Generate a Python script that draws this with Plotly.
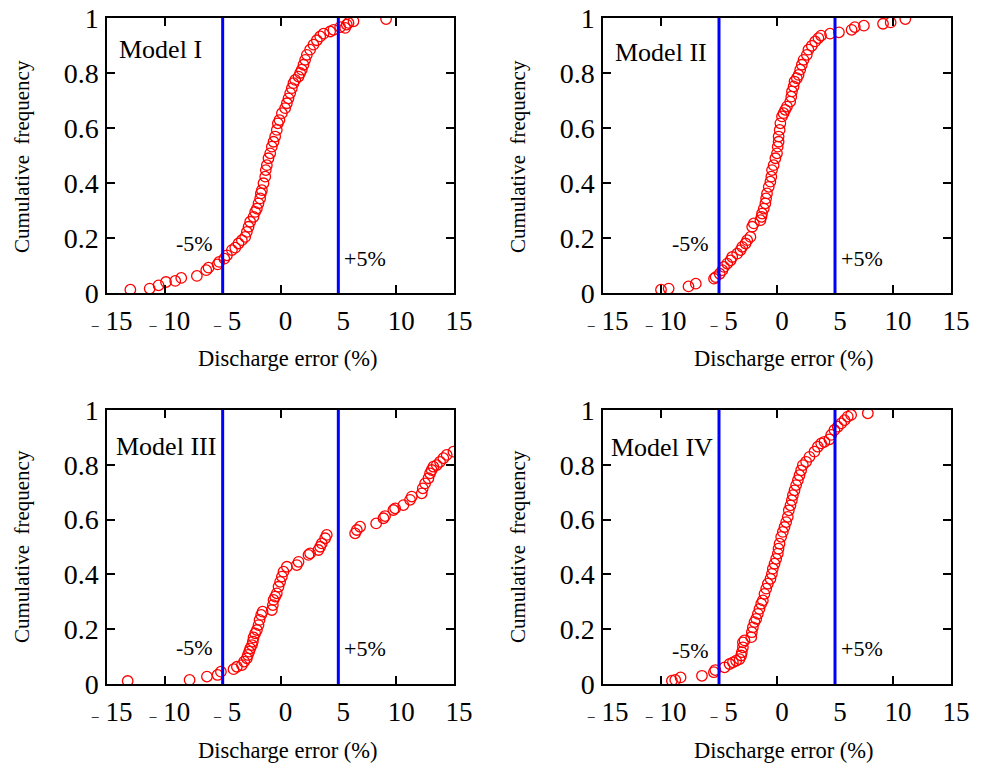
import plotly.graph_objects as go

# ---------------- data ----------------
m1_x = [-12.98, -11.31, -10.54, -9.90, -9.10, -8.58, -7.23, -6.42, -6.22, -5.44, -5.30, -4.86, -4.63,
        -4.20, -3.91, -3.63, -3.34, -3.05, -2.91, -2.76, -2.62, -2.33, -2.19, -2.04, -1.90, -1.76,
        -1.70, -1.61, -1.47, -1.32, -1.27, -1.18, -1.04, -0.89, -0.75, -0.60, -0.46, -0.32, -0.23,
        -0.09, 0.12, 0.40, 0.55, 0.69, 0.84, 0.98, 1.12, 1.27, 1.56, 1.70, 1.84, 1.99, 2.13, 2.28,
        2.56, 2.85, 3.14, 3.43, 3.72, 4.29, 4.58, 5.16, 5.59, 5.73, 5.88, 6.31, 9.13]
m1_y = [0.012, 0.016, 0.028, 0.040, 0.044, 0.055, 0.062, 0.083, 0.092, 0.104, 0.113, 0.125, 0.137,
        0.156, 0.165, 0.180, 0.192, 0.204, 0.222, 0.241, 0.259, 0.277, 0.295, 0.307, 0.326, 0.344,
        0.362, 0.374, 0.399, 0.423, 0.447, 0.465, 0.490, 0.508, 0.532, 0.550, 0.569, 0.593, 0.617,
        0.629, 0.654, 0.672, 0.690, 0.708, 0.727, 0.745, 0.763, 0.775, 0.787, 0.800, 0.812, 0.830,
        0.848, 0.866, 0.885, 0.903, 0.919, 0.933, 0.943, 0.951, 0.957, 0.967, 0.964, 0.976, 0.982,
        0.988, 0.996]

m2_x = [-10.00, -9.34, -7.63, -7.00, -5.43, -5.29, -4.94, -4.71, -4.57, -4.29, -4.00, -3.86, -3.43,
        -3.14, -3.00, -2.71, -2.57, -2.29, -2.14, -2.00, -1.43, -1.34, -1.29, -1.14, -1.00, -0.94,
        -0.86, -0.71, -0.57, -0.49, -0.43, -0.29, -0.14, 0.00, 0.06, 0.14, 0.14, 0.23, 0.29, 0.43,
        0.57, 0.71, 0.86, 1.14, 1.23, 1.29, 1.43, 1.51, 1.71, 1.86, 2.00, 2.14, 2.29, 2.57, 2.71,
        3.00, 3.29, 3.57, 3.80, 4.57, 5.34, 6.43, 6.71, 7.49, 9.14, 9.80, 11.06]
m2_y = [0.012, 0.016, 0.024, 0.034, 0.052, 0.058, 0.070, 0.083, 0.095, 0.107, 0.119, 0.131, 0.143,
        0.156, 0.168, 0.180, 0.192, 0.204, 0.241, 0.253, 0.265, 0.277, 0.289, 0.307, 0.326, 0.344,
        0.362, 0.386, 0.405, 0.423, 0.447, 0.465, 0.490, 0.508, 0.532, 0.550, 0.569, 0.593, 0.617,
        0.642, 0.654, 0.666, 0.678, 0.696, 0.714, 0.733, 0.751, 0.769, 0.781, 0.793, 0.812, 0.830,
        0.848, 0.866, 0.885, 0.899, 0.915, 0.927, 0.936, 0.943, 0.948, 0.957, 0.967, 0.972, 0.979,
        0.984, 0.996]

m3_x = [-13.21, -7.86, -6.36, -5.44, -5.15, -4.06, -3.77, -3.34, -3.14, -2.91, -2.82, -2.71, -2.62,
        -2.47, -2.39, -2.33, -2.19, -2.04, -1.90, -1.81, -1.67, -1.55, -0.75, -0.66, -0.60, -0.46,
        -0.32, -0.17, -0.03, 0.12, 0.26, 0.55, 1.41, 1.56, 2.42, 2.56, 3.28, 3.43, 3.57, 3.86, 4.00,
        6.45, 6.60, 6.88, 8.27, 8.90, 9.04, 9.76, 9.91, 10.63, 11.20, 11.35, 12.21, 12.30, 12.50,
        12.79, 12.93, 13.07, 13.22, 13.51, 13.79, 14.08, 14.37, 14.95]
m3_y = [0.011, 0.015, 0.027, 0.033, 0.045, 0.054, 0.063, 0.069, 0.082, 0.094, 0.106, 0.118, 0.130,
        0.142, 0.155, 0.170, 0.185, 0.197, 0.215, 0.234, 0.252, 0.264, 0.270, 0.288, 0.307, 0.319,
        0.331, 0.355, 0.373, 0.392, 0.410, 0.428, 0.434, 0.446, 0.471, 0.477, 0.489, 0.501, 0.513,
        0.532, 0.544, 0.550, 0.562, 0.574, 0.586, 0.605, 0.613, 0.635, 0.641, 0.653, 0.672, 0.684,
        0.696, 0.714, 0.732, 0.751, 0.769, 0.781, 0.793, 0.799, 0.811, 0.824, 0.836, 0.848]

m4_x = [-9.06, -8.77, -8.31, -6.47, -5.44, -5.32, -4.52, -4.09, -3.80, -3.52, -3.23, -3.09, -3.03,
        -2.94, -2.94, -2.80, -2.22, -2.17, -2.08, -1.94, -1.79, -1.65, -1.51, -1.36, -1.22, -1.08,
        -0.93, -0.79, -0.56, -0.44, -0.36, -0.21, -0.07, 0.07, 0.13, 0.22, 0.36, 0.50, 0.65, 0.79,
        0.93, 1.02, 1.16, 1.28, 1.37, 1.51, 1.65, 1.80, 1.94, 2.08, 2.23, 2.51, 2.80, 3.23, 3.52,
        3.81, 4.09, 4.52, 4.67, 4.95, 5.24, 5.53, 5.82, 6.10, 6.39, 7.83]
m4_y = [0.012, 0.015, 0.024, 0.030, 0.043, 0.051, 0.061, 0.073, 0.079, 0.085, 0.091, 0.104, 0.116,
        0.134, 0.152, 0.159, 0.171, 0.189, 0.207, 0.226, 0.238, 0.256, 0.274, 0.293, 0.305, 0.329,
        0.348, 0.366, 0.384, 0.402, 0.421, 0.439, 0.457, 0.476, 0.494, 0.512, 0.537, 0.555, 0.573,
        0.591, 0.610, 0.634, 0.652, 0.671, 0.689, 0.707, 0.726, 0.744, 0.762, 0.780, 0.799, 0.811,
        0.829, 0.848, 0.866, 0.878, 0.884, 0.893, 0.909, 0.927, 0.939, 0.951, 0.963, 0.976, 0.982,
        0.988]

model_names = ["Model I", "Model II", "Model III", "Model IV"]
limit_values = [-5, 5]
limit_labels = ["-5%", "+5%"]
xtick_vals = [-15, -10, -5, 0, 5, 10, 15]
DASH = "<span style='font-size:14px'>–</span>"
xtick_text = [DASH + " 15", DASH + " 10", DASH + " 5", "0", "5", "10", "15"]
ytick_vals = [0, 0.2, 0.4, 0.6, 0.8, 1]
ytick_text = ["0", "0.2", "0.4", "0.6", "0.8", "1"]
x_title = "Discharge error (%)"
y_title = "Cumulative\u00a0 frequency"

series = [(m1_x, m1_y), (m2_x, m2_y), (m3_x, m3_y), (m4_x, m4_y)]

minus_label_y = [0.18, 0.18, 0.135, 0.124]
plus_label_y = [0.127, 0.127, 0.13, 0.13]
model_label_pos = [(-14.1, 0.884), (-14.1, 0.876), (-14.4, 0.865), (-14.5, 0.862)]

# ---------------- layout geometry ----------------
W, H = 986, 767
col_dom = [[107 / W, 454 / W], [603 / W, 951 / W]]
row_dom = [[1 - 293 / H, 1 - 18 / H], [1 - 684 / H, 1 - 410 / H]]

FONT = "Liberation Serif"

fig = go.Figure()
layout_axes = {}
annotations = []
shapes = []

for i, (xs, ys) in enumerate(series):
    r, c = divmod(i, 2)
    n = i + 1
    xa = "x" if n == 1 else f"x{n}"
    ya = "y" if n == 1 else f"y{n}"
    fig.add_trace(go.Scatter(
        x=xs, y=ys, xaxis=xa, yaxis=ya, mode="markers",
        marker=dict(symbol="circle-open", size=10.5, color="#ff0000",
                    line=dict(color="#ff0000", width=1.3)),
        showlegend=False, hoverinfo="skip"))

    axis_common = dict(showline=True, linecolor="black", linewidth=1.5, mirror="ticks",
                       ticks="inside", ticklen=8, tickwidth=1.5, tickcolor="black",
                       showgrid=False, zeroline=False, automargin=False)
    layout_axes["xaxis" if n == 1 else f"xaxis{n}"] = dict(
        domain=col_dom[c], anchor=ya, range=[-15, 15], tickmode="array",
        tickvals=xtick_vals, ticktext=xtick_text, ticklabelshift=5, ticklabelstandoff=3,
        tickfont=dict(family=FONT, size=27, color="black"), **axis_common)
    layout_axes["yaxis" if n == 1 else f"yaxis{n}"] = dict(
        domain=row_dom[r], anchor=xa, range=[0, 1], tickmode="array",
        tickvals=ytick_vals, ticktext=ytick_text, ticklabelstandoff=1,
        tickfont=dict(family=FONT, size=28, color="black"), **axis_common)

    for v in limit_values:
        shapes.append(dict(type="line", xref=xa, yref=ya, x0=v, x1=v, y0=0, y1=1,
                           line=dict(color="#0000ff", width=3)))
    annotations.append(dict(xref=xa, yref=ya, x=-7.45, y=minus_label_y[i], text=limit_labels[0],
                            xanchor="center", yanchor="middle", showarrow=False,
                            font=dict(family=FONT, size=22, color="black")))
    annotations.append(dict(xref=xa, yref=ya, x=7.33, y=plus_label_y[i], text=limit_labels[1],
                            xanchor="center", yanchor="middle", showarrow=False,
                            font=dict(family=FONT, size=22, color="black")))
    mx, my = model_label_pos[i]
    annotations.append(dict(xref=xa, yref=ya, x=mx, y=my, text=model_names[i], xanchor="left",
                            yanchor="middle", showarrow=False,
                            font=dict(family=FONT, size=26, color="black")))
    xc = (col_dom[c][0] + col_dom[c][1]) / 2 + 7 / W
    annotations.append(dict(xref="paper", yref="paper", x=xc,
                            y=1 - (358 if r == 0 else 750) / H, text=x_title,
                            xanchor="center", yanchor="middle", showarrow=False,
                            font=dict(family=FONT, size=22.5, color="black")))
    annotations.append(dict(xref="paper", yref="paper", x=(22 if c == 0 else 518) / W,
                            y=1 - (157 if r == 0 else 547) / H, text=y_title, textangle=-90,
                            xanchor="center", yanchor="middle", showarrow=False,
                            font=dict(family=FONT, size=21, color="black")))

fig.update_layout(width=W, height=H, margin=dict(l=0, r=0, t=0, b=0, autoexpand=False),
                  paper_bgcolor="white", plot_bgcolor="white",
                  annotations=annotations, shapes=shapes, **layout_axes)

fig.write_html("out.html")
